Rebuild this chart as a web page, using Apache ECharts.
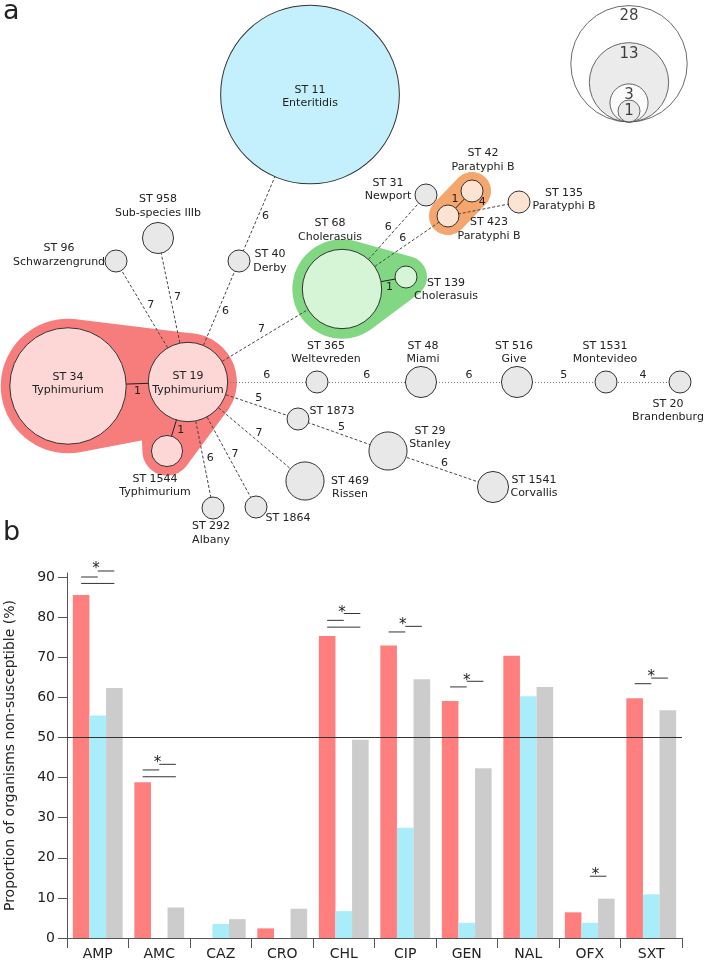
<!DOCTYPE html>
<html><head><meta charset="utf-8">
<script src="https://cdn.jsdelivr.net/npm/echarts@6/dist/echarts.min.js"></script>
<style>html,body{margin:0;padding:0;background:#fff}#c{width:704px;height:963px}</style>
</head><body><div id="c"></div>
<script>
// ---------- Panel a: minimum spanning tree of sequence types ----------
const stNames = ['ST 11','ST 34','ST 19','ST 1544','ST 958','ST 96','ST 40','ST 68','ST 139','ST 31','ST 42','ST 423','ST 135','ST 365','ST 48','ST 516','ST 1531','ST 20','ST 1873','ST 29','ST 469','ST 1541','ST 292','ST 1864'];
const serovars = ['Enteritidis','Typhimurium','Typhimurium','Typhimurium','Sub-species IIIb','Schwarzengrund','Derby','Cholerasuis','Cholerasuis','Newport','Paratyphi B','Paratyphi B','Paratyphi B','Weltevreden','Miami','Give','Montevideo','Brandenburg','','Stanley','Rissen','Corvallis','Albany',''];
const isolateCounts = [66,28,13,2,2,1,1,13,1,1,1,1,1,1,2,2,1,1,1,3,3,2,1,1];
// layout of the tree (abstract layout units)
const layoutX = [310,68,188,167,158,116,239,342,406,426,472,448,519,317,421,517,606,680,298,388,305,493,213,256];
const layoutY = [94.5,386,382,451,238,261,261,289,277,195,191,216,202,382,382,382,382,382,419,451,481,487,508,507];
// links: [source, target, allelic distance]
const links = [
  ['ST 34','ST 19',1],['ST 19','ST 1544',1],['ST 19','ST 96',7],['ST 19','ST 958',7],
  ['ST 19','ST 40',6],['ST 40','ST 11',6],['ST 19','ST 68',7],['ST 19','ST 365',6],
  ['ST 365','ST 48',6],['ST 48','ST 516',6],['ST 516','ST 1531',5],['ST 1531','ST 20',4],
  ['ST 19','ST 1873',5],['ST 1873','ST 29',5],['ST 29','ST 1541',6],['ST 19','ST 469',7],
  ['ST 19','ST 1864',7],['ST 19','ST 292',6],['ST 68','ST 139',1],['ST 68','ST 31',6],
  ['ST 68','ST 423',6],['ST 423','ST 42',1],['ST 423','ST 135',4]
];
const hullPairs = [['ST 34','ST 19'],['ST 19','ST 1544'],['ST 68','ST 139'],['ST 423','ST 42']];
const legendCounts = [28,13,3,1];

// ---------- Panel b: antimicrobial non-susceptibility ----------
const antibiotics = ['AMP','AMC','CAZ','CRO','CHL','CIP','GEN','NAL','OFX','SXT'];
const typhimuriumNS = [85.5,38.8,0,2.4,75.3,72.9,59.1,70.4,6.4,59.8];
const enteritidisNS = [55.5,0,3.5,0,6.7,27.5,3.8,60.3,3.8,10.9];
const otherNS = [62.3,7.6,4.7,7.3,49.4,64.5,42.3,62.6,9.8,56.8];
const yTicks = [0,10,20,30,40,50,60,70,80,90];
const sigCategory = ['AMP','AMP','AMP','AMC','AMC','AMC','CHL','CHL','CHL','CIP','CIP','GEN','GEN','OFX','SXT','SXT'];
const sigFromBar = [0,1,0, 0,1,0, 0,1,0, 0,1, 0,1, 1, 0,1];
const sigToBar   = [1,2,2, 1,2,2, 1,2,2, 1,2, 1,2, 2, 1,2];
const sigLevel   = [90.0,91.5,88.4, 41.9,43.3,40.2, 79.2,80.9,77.5, 76.3,77.7, 62.6,64.0, 15.4, 63.4,64.8];
const starCategory = ['AMP','AMC','CHL','CIP','GEN','OFX','SXT'];
const starLevel = [93.2,44.8,82.3,79.2,65.4,17.0,66.3];

// ---------- styles ----------
const FONT = 'DejaVu Sans';
const labelOffsets = [[0,2],[0,-2.5],[0,1],[-12,34.5],[0,-32],[-57,-6],[31,0],[-12,-59],[40,12.5],[-38,-5.5],[11,-31],[41,13],[45,-2.5],[9,-29.5],[2,-29.5],[-3,-29.5],[-1,-29.5],[-12,28.5],[34,-8],[42,-13.5],[45,6.5],[41,-0.5],[-2,25],[32,11]];
const linkLineType = ['solid','solid','dashed','dashed','dashed','dashed','dashed','dotted','dotted','dotted','dotted','dotted','dashed','dashed','dashed','dashed','dashed','dashed','solid','dashed','dashed','solid','dashed'];
const edgeLabelSide = [1,-1,1,1,1,1,-1,-1,-1,-1,-1,-1,-1,-1,-1,-1,-1,-1,1,-1,-1,-1,-1];
const starBarPos = [0.9,0.9,0.9,0.85,1.0,1.34,1.0];
const barColors = ['#ff7f7f','#aaedfa','#cccccc'];
const BAR_GAP = 0.19;

const idx = {}; stNames.forEach((n,i)=>idx[n]=i);
const nodeSize = n => 22*Math.sqrt(n);
function fillFor(s){
  if (s==='Typhimurium') return '#fdd6d6';
  if (s==='Enteritidis') return '#c3f0fc';
  if (s==='Cholerasuis') return '#d6f5d6';
  if (s==='Paratyphi B') return '#fde3d2';
  return '#e8e8e8';
}
function hullFor(s){
  if (s==='Typhimurium') return {color:'#f77c7c', pad:9};
  if (s==='Cholerasuis') return {color:'#82d882', pad:10};
  return {color:'#f5a66c', pad:8};
}
function lineStyleFor(t){
  if (t==='solid') return {type:'solid', color:'#222', width:1, opacity:1, curveness:0};
  if (t==='dotted') return {type:[1,2], color:'#777', width:1, opacity:1, curveness:0};
  return {type:[3,2], color:'#444', width:1, opacity:1, curveness:0};
}
function convexHull(pts){
  pts = pts.slice().sort((a,b)=>a[0]-b[0]||a[1]-b[1]);
  const cross=(o,a,b)=>(a[0]-o[0])*(b[1]-o[1])-(a[1]-o[1])*(b[0]-o[0]);
  const lower=[],upper=[];
  for(const p of pts){while(lower.length>=2&&cross(lower[lower.length-2],lower[lower.length-1],p)<=0)lower.pop();lower.push(p);}
  for(let i=pts.length-1;i>=0;i--){const p=pts[i];while(upper.length>=2&&cross(upper[upper.length-2],upper[upper.length-1],p)<=0)upper.pop();upper.push(p);}
  upper.pop();lower.pop();return lower.concat(upper);
}

const graphNodes = stNames.map((n,i)=>({
  name:n, value:[layoutX[i],layoutY[i]], symbol:'circle', symbolSize:nodeSize(isolateCounts[i]),
  itemStyle:{color:fillFor(serovars[i]), borderColor:'#333', borderWidth:1},
  label:{show:true, position:'inside', offset:labelOffsets[i],
    formatter: serovars[i] ? n+'\n'+serovars[i] : n,
    align:'center', verticalAlign:'middle', fontSize:11, lineHeight:13.5, color:'#222', fontFamily:FONT}
}));
const graphLinks = links.map((l,i)=>({source:l[0], target:l[1], lineStyle:lineStyleFor(linkLineType[i])}));

const chart = echarts.init(document.getElementById('c'), null, {renderer:'canvas'});
const option = {
  animation:false,
  backgroundColor:'#fff',
  textStyle:{fontFamily:FONT},
  grid:[
    {left:0, top:0, width:704, height:520, containLabel:false, outerBoundsMode:'none'},
    {left:67, top:573, width:615, height:365, containLabel:false, outerBoundsMode:'none'}
  ],
  xAxis:[
    {gridIndex:0, type:'value', min:0, max:704, show:false},
    {gridIndex:1, type:'category', data:antibiotics,
      axisLine:{show:true, lineStyle:{color:'#555', width:1}},
      axisTick:{show:true, length:10, lineStyle:{color:'#555'}},
      axisLabel:{fontSize:14, color:'#222', margin:9, fontFamily:FONT, interval:0},
      splitLine:{show:false}}
  ],
  yAxis:[
    {gridIndex:0, type:'value', min:0, max:520, inverse:true, show:false},
    {gridIndex:1, type:'value', min:yTicks[0], max:91, interval:10,
      name:'Proportion of organisms non-susceptible (%)', nameLocation:'middle', nameGap:50,
      nameTextStyle:{fontSize:14, color:'#222', fontFamily:FONT},
      axisLine:{show:true, lineStyle:{color:'#555', width:1}},
      axisTick:{show:true, length:9, lineStyle:{color:'#555'}},
      axisLabel:{fontSize:14, color:'#222', margin:12, fontFamily:FONT},
      splitLine:{show:false}}
  ],
  graphic:[
    {type:'text', left:3, top:-2, style:{text:'a', font:'27px "DejaVu Sans"', fill:'#222'}},
    {type:'text', left:3, top:519, style:{text:'b', font:'27px "DejaVu Sans"', fill:'#222'}}
  ],
  series:[
    // hulls around single-locus-variant groups
    {type:'custom', coordinateSystem:'cartesian2d', xAxisIndex:0, yAxisIndex:0, silent:true, z:1, clip:false,
      data: hullPairs.map((p,i)=>[layoutX[idx[p[0]]], layoutY[idx[p[0]]], i]),
      encode:{x:0,y:1},
      renderItem:(params, api)=>{
        const pair = hullPairs[api.value(2)];
        const h = hullFor(serovars[idx[pair[0]]]);
        let pts=[];
        pair.forEach(nm=>{
          const k=idx[nm]; const c=api.coord([layoutX[k],layoutY[k]]);
          const r=nodeSize(isolateCounts[k])/2+h.pad;
          for(let a=0;a<72;a++){const t=a/72*Math.PI*2;pts.push([c[0]+r*Math.cos(t),c[1]+r*Math.sin(t)]);}
        });
        return {type:'polygon', shape:{points:convexHull(pts)}, style:{fill:h.color}};
      }},
    // size legend
    {type:'scatter', xAxisIndex:0, yAxisIndex:0, silent:true, z:2,
      data: legendCounts.map((n,i)=>({value:[629, 122-nodeSize(n)/2], symbolSize:nodeSize(n),
        itemStyle:{color: i%2===0 ? '#ffffff' : '#e6e6e6', borderColor:'#444', borderWidth:1},
        label:{show:true, position:'insideTop', distance:4, formatter:String(n), fontSize:15, color:'#111', fontFamily:FONT}}))},
    // tree
    {type:'graph', layout:'none', coordinateSystem:'cartesian2d', xAxisIndex:0, yAxisIndex:0, silent:true, z:3,
      roam:false, draggable:false, edgeSymbol:['none','none'],
      emphasis:{disabled:true},
      data:graphNodes, links:graphLinks},
    // edge distance labels
    {type:'custom', coordinateSystem:'cartesian2d', xAxisIndex:0, yAxisIndex:0, silent:true, z:4, clip:false,
      data: links.map((l,i)=>[layoutX[idx[l[0]]], layoutY[idx[l[0]]], i]),
      encode:{x:0,y:1},
      renderItem:(params, api)=>{
        const i=api.value(2); const l=links[i];
        const a=idx[l[0]], b=idx[l[1]];
        const p=api.coord([layoutX[a],layoutY[a]]), q=api.coord([layoutX[b],layoutY[b]]);
        const ra=nodeSize(isolateCounts[a])/2, rb=nodeSize(isolateCounts[b])/2;
        const dx=q[0]-p[0], dy=q[1]-p[1], len=Math.hypot(dx,dy), ux=dx/len, uy=dy/len;
        const mx=(p[0]+ux*ra+q[0]-ux*rb)/2, my=(p[1]+uy*ra+q[1]-uy*rb)/2;
        const s=edgeLabelSide[i]*7;
        return {type:'text', x:mx-uy*s, y:my+ux*s,
          style:{text:String(l[2]), fill:'#222', font:'11px "DejaVu Sans"', align:'center', verticalAlign:'middle'}};
      }},
    // bars
    {name:'Typhimurium', type:'bar', xAxisIndex:1, yAxisIndex:1, data:typhimuriumNS, barGap:'0%', barCategoryGap:(BAR_GAP*100)+'%',
      itemStyle:{color:barColors[0]}, silent:true,
      markLine:{silent:true, symbol:'none', z:5, label:{show:false}, lineStyle:{color:'#333', type:'solid', width:1},
        data:[{yAxis:50}]}},
    {name:'Enteritidis', type:'bar', xAxisIndex:1, yAxisIndex:1, data:enteritidisNS, barGap:'0%', barCategoryGap:(BAR_GAP*100)+'%',
      itemStyle:{color:barColors[1]}, silent:true},
    {name:'Other', type:'bar', xAxisIndex:1, yAxisIndex:1, data:otherNS, barGap:'0%', barCategoryGap:(BAR_GAP*100)+'%',
      itemStyle:{color:barColors[2]}, silent:true},
    // significance lines
    {type:'custom', coordinateSystem:'cartesian2d', xAxisIndex:1, yAxisIndex:1, silent:true, z:6, clip:false,
      data: sigCategory.map((c,i)=>[c, sigLevel[i], i]),
      encode:{x:0,y:1},
      renderItem:(params, api)=>{
        const i=api.value(2);
        const c=api.coord([api.value(0), api.value(1)]);
        const band=api.size([1,0])[0]; const bw=band*(1-BAR_GAP)/3;
        const x1=c[0]+(sigFromBar[i]-1)*bw, x2=c[0]+(sigToBar[i]-1)*bw;
        return {type:'line', shape:{x1:x1,y1:c[1],x2:x2,y2:c[1]}, style:{stroke:'#333', lineWidth:1}};
      }},
    // significance stars
    {type:'custom', coordinateSystem:'cartesian2d', xAxisIndex:1, yAxisIndex:1, silent:true, z:6, clip:false,
      data: starCategory.map((c,i)=>[c, starLevel[i], i]),
      encode:{x:0,y:1},
      renderItem:(params, api)=>{
        const i=api.value(2);
        const c=api.coord([api.value(0), api.value(1)]);
        const band=api.size([1,0])[0]; const bw=band*(1-BAR_GAP)/3;
        return {type:'text', x:c[0]+(starBarPos[i]-1)*bw, y:c[1]+5,
          style:{text:'*', fill:'#222', font:'15px "DejaVu Sans"', align:'center', verticalAlign:'middle'}};
      }}
  ]
};
chart.setOption(option);
</script>
</body></html>
